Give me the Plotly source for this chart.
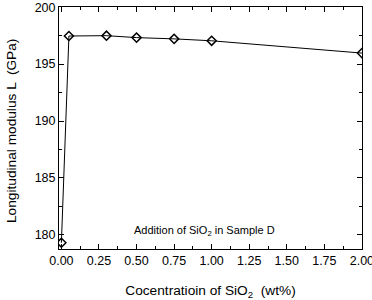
import plotly.graph_objects as go

conc = [0.0, 0.05, 0.3, 0.5, 0.75, 1.0, 2.0]
modulus = [179.3, 197.47, 197.5, 197.33, 197.22, 197.05, 195.97]
x_ticks = [0.0, 0.25, 0.5, 0.75, 1.0, 1.25, 1.5, 1.75, 2.0]
x_labels = ["0.00", "0.25", "0.50", "0.75", "1.00", "1.25", "1.50", "1.75", "2.00"]
y_ticks = [180, 185, 190, 195, 200]

FONT = "Liberation Sans, Arial"

fig = go.Figure()
fig.add_trace(go.Scatter(
    x=conc, y=modulus, mode="lines+markers",
    line=dict(color="black", width=1),
    marker=dict(symbol="diamond-open", size=7, color="black", line=dict(width=1.5, color="black")),
    cliponaxis=True, showlegend=False,
))

axis_common = dict(
    showline=True, linecolor="black", linewidth=1, mirror="allticks",
    ticks="inside", ticklen=5, tickwidth=1, tickcolor="black",
    showgrid=False, zeroline=False, ticklabeloverflow="allow", automargin=False,
    tickfont=dict(family=FONT, size=12.5, color="black"),
)

fig.update_xaxes(
    range=[-0.016, 2.0005], tickmode="array", tickvals=x_ticks, ticktext=x_labels,
    minor=dict(ticks="inside", ticklen=3, tickvals=[0.125 + 0.25 * i for i in range(8)], tickcolor="black"),
    title=dict(text="Cocentratioin of SiO<sub>2</sub>  (wt%)", standoff=25,
               font=dict(family=FONT, size=13.7, color="black")),
    **axis_common,
)
fig.update_yaxes(
    range=[178.75, 200.02], tickmode="array", tickvals=y_ticks,
    minor=dict(ticks="inside", ticklen=3, tickvals=[182.5, 187.5, 192.5, 197.5], tickcolor="black"),
    **axis_common,
)

fig.add_annotation(
    x=0, y=0.5, xref="paper", yref="paper", showarrow=False,
    xanchor="center", yanchor="middle", xshift=-48, yshift=-3, textangle=-90,
    text="Longitudinal modulus L  (GPa)",
    font=dict(family=FONT, size=13.7, color="black"),
)

fig.add_annotation(
    x=0.95, y=180.35, xref="x", yref="y", showarrow=False,
    text="Addition of SiO<sub>2</sub> in Sample D",
    font=dict(family=FONT, size=11, color="black"),
)

fig.update_layout(
    width=372, height=300,
    margin=dict(l=59, r=10, t=7, b=51),
    paper_bgcolor="white", plot_bgcolor="white",
)

fig.write_html("out.html")
